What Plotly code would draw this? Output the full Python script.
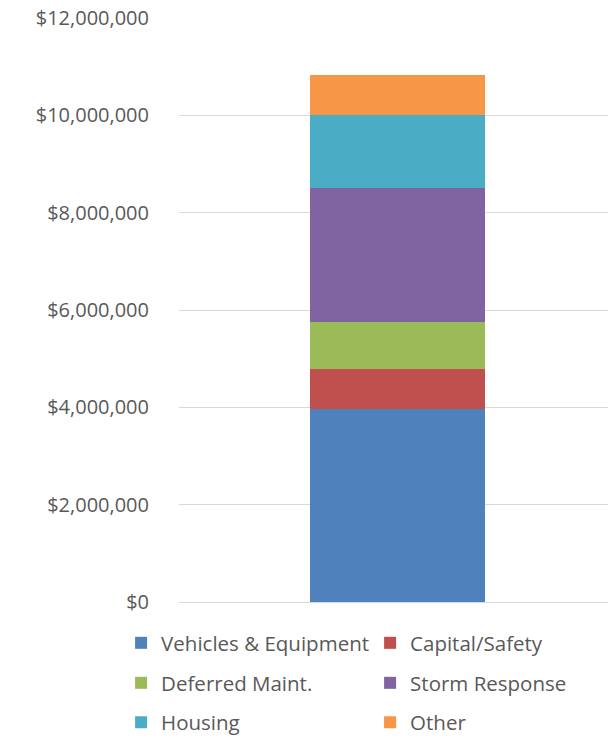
import plotly.graph_objects as go

categories = ["Total"]
series_names = ["Vehicles & Equipment", "Capital/Safety", "Deferred Maint.",
                "Storm Response", "Housing", "Other"]
series_values = [3960000, 835000, 966000, 2755000, 1500000, 823000]
series_colors = ["#4F81BD", "#C0504D", "#9BBB59", "#8064A2", "#4BACC6", "#F79646"]
tick_values = [0, 2000000, 4000000, 6000000, 8000000, 10000000, 12000000]
tick_labels = ["$0", "$2,000,000", "$4,000,000", "$6,000,000", "$8,000,000",
               "$10,000,000", "$12,000,000"]

FONT = "Open Sans"
legend_ids = ["legend", "legend", "legend2", "legend2", "legend3", "legend3"]

fig = go.Figure()
for name, val, col, lg in zip(series_names, series_values, series_colors, legend_ids):
    fig.add_trace(go.Bar(
        x=categories, y=[val], name=name, marker=dict(color=col, line=dict(width=0)),
        width=0.408, legend=lg,
        hovertemplate=name + ": %{y:$,.0f}<extra></extra>",
    ))

def mk_legend(y):
    return dict(
        orientation="h", x=-0.135, xanchor="left", y=y, yanchor="middle",
        entrywidth=204, entrywidthmode="pixels",
        font=dict(family=FONT, size=20.5, color="#595959"),
        bgcolor="rgba(0,0,0,0)", itemclick=False, itemdoubleclick=False,
        traceorder="normal", borderwidth=0,
    )

fig.update_layout(
    width=608, height=738,
    margin=dict(l=179, r=0, t=18, b=136, autoexpand=False),
    paper_bgcolor="white", plot_bgcolor="white",
    barmode="stack", bargap=0,
    font=dict(family=FONT, color="#595959"),
    xaxis=dict(type="category", range=[-0.5093, 0.4907], showticklabels=False,
               showgrid=False, zeroline=False, showline=False, fixedrange=True),
    yaxis=dict(range=[0, 12000000], tickvals=tick_values, ticktext=tick_labels,
               showgrid=True, gridcolor="#D9D9D9", gridwidth=1.3,
               zeroline=True, zerolinecolor="#D9D9D9", zerolinewidth=1.3,
               showline=False, ticks="", ticklabelstandoff=29,
               tickfont=dict(family=FONT, size=20, color="#595959"),
               fixedrange=True),
    legend=mk_legend(-0.0702),
    legend2=mk_legend(-0.1387),
    legend3=mk_legend(-0.2060),
)

fig.write_html("out.html")
